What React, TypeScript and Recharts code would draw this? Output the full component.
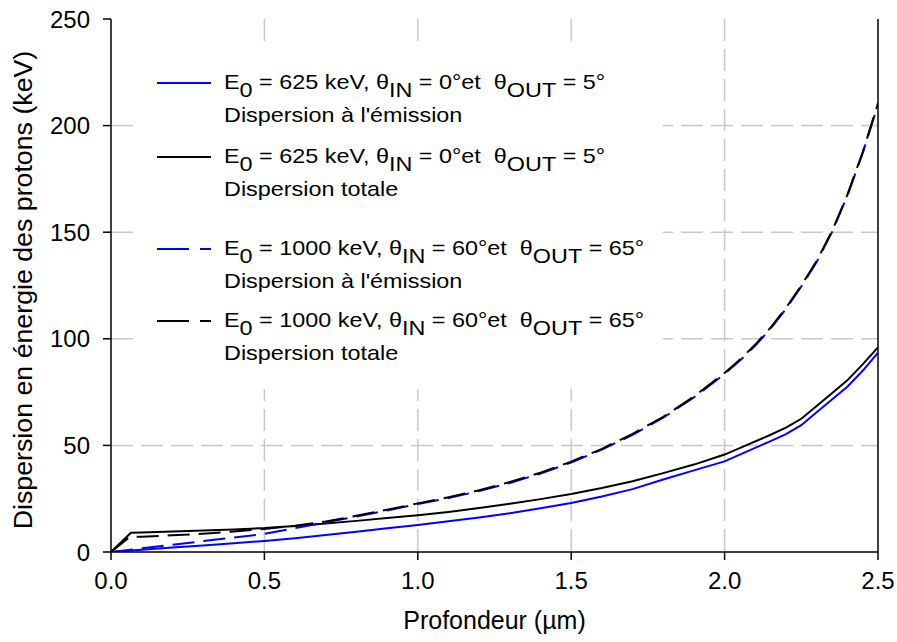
import React from 'react';
import { LineChart, Line, XAxis, YAxis, CartesianGrid, ReferenceLine } from 'recharts';

const FONT = '"Liberation Sans", Arial, Helvetica, sans-serif';

// 625 keV, θin=0°, θout=5° — dispersion à l'émission (blue solid)
const depthA = [0, 0.1, 0.2, 0.3, 0.4, 0.5, 0.6, 0.7, 0.8, 0.9, 1.0, 1.1, 1.2, 1.3, 1.4, 1.5, 1.6, 1.7, 1.8, 1.9, 2.0, 2.07, 2.15, 2.2, 2.25, 2.3, 2.35, 2.4, 2.45, 2.5];
const dispA = [0, 1.1, 2.1, 3.1, 4.1, 5.2, 6.5, 8.0, 9.5, 11.1, 12.7, 14.4, 16.2, 18.2, 20.5, 23.0, 26.0, 29.5, 34.0, 38.3, 42.5, 47.0, 52.0, 55.3, 59.5, 65.5, 71.5, 77.5, 85.0, 93.5];

// 625 keV — dispersion totale (black solid)
const depthB = [0, 0.065, 0.1, 0.2, 0.3, 0.4, 0.5, 0.6, 0.7, 0.8, 0.9, 1.0, 1.1, 1.2, 1.3, 1.4, 1.5, 1.6, 1.7, 1.8, 1.9, 2.0, 2.07, 2.15, 2.2, 2.25, 2.3, 2.35, 2.4, 2.45, 2.5];
const dispB = [0, 9.0, 9.2, 9.6, 10.1, 10.6, 11.2, 12.2, 13.4, 14.6, 15.9, 17.2, 18.8, 20.6, 22.6, 24.8, 27.2, 30.0, 33.2, 37.0, 41.0, 45.7, 50.0, 55.0, 58.3, 62.5, 68.5, 74.5, 80.5, 88.0, 96.0];

// 1000 keV, θin=60°, θout=65° — dispersion à l'émission (blue dashed)
const depthC = [0, 0.1, 0.2, 0.3, 0.4, 0.5, 0.6, 0.7, 0.8, 0.9, 1.0, 1.1, 1.2, 1.3, 1.4, 1.5, 1.6, 1.7, 1.8, 1.9, 2.0, 2.05, 2.1, 2.15, 2.2, 2.25, 2.3, 2.35, 2.4, 2.45, 2.5];
const dispC = [0, 1.7, 3.4, 5.1, 6.8, 8.5, 11.2, 13.9, 16.7, 19.5, 22.5, 25.3, 28.6, 32.4, 36.8, 42.0, 48.0, 55.0, 63.0, 72.5, 83.5, 89.8, 96.8, 104.8, 114.0, 124.5, 136.0, 150.0, 167.0, 187.0, 210.0];

// 1000 keV — dispersion totale (black dashed)
const depthD = [0, 0.06, 0.1, 0.2, 0.3, 0.4, 0.5, 0.6, 0.7, 0.8, 0.9, 1.0, 1.1, 1.2, 1.3, 1.4, 1.5, 1.6, 1.7, 1.8, 1.9, 2.0, 2.05, 2.1, 2.15, 2.2, 2.25, 2.3, 2.35, 2.4, 2.45, 2.5];
const dispD = [0, 7.0, 7.2, 7.8, 8.6, 9.6, 10.8, 12.3, 14.3, 17.0, 19.8, 22.8, 25.7, 29.0, 32.8, 37.2, 42.4, 48.4, 55.4, 63.4, 72.9, 84.0, 90.3, 97.3, 105.3, 114.5, 125.0, 136.5, 150.5, 167.5, 187.5, 210.5];

const xTicks = [0, 0.5, 1.0, 1.5, 2.0, 2.5];
const yTicks = [0, 50, 100, 150, 200, 250];
const gridX = [0.5, 1.0, 1.5, 2.0];
const gridY = [50, 100, 150, 200];

const xTitle = 'Profondeur (µm)';
const yTitle = 'Dispersion en énergie des protons (keV)';

const legendRows = [
  { color: '#0000ff', dashed: false, energy: '625', tin: '0', tout: '5', desc: "Dispersion à l'émission" },
  { color: '#000000', dashed: false, energy: '625', tin: '0', tout: '5', desc: 'Dispersion totale' },
  { color: '#0000ff', dashed: true, energy: '1000', tin: '60', tout: '65', desc: "Dispersion à l'émission" },
  { color: '#000000', dashed: true, energy: '1000', tin: '60', tout: '65', desc: 'Dispersion totale' },
];

const toData = (xs: number[], ys: number[]) => xs.map((x, i) => ({ x, y: ys[i] }));

const seriesA = toData(depthA, dispA);
const seriesB = toData(depthB, dispB);
const seriesC = toData(depthC, dispC);
const seriesD = toData(depthD, dispD);

const rowY = [83, 157, 249, 321];
const LEG_FS = 20;
const LEG_SX = 1.17;
const SUB_DY = 8.5;

function LegendRow({ row, y }: { row: typeof legendRows[number]; y: number }) {
  const base = y + 5.5;
  return (
    <g>
      <line
        x1={157}
        x2={211}
        y1={y}
        y2={y}
        stroke={row.color}
        strokeWidth={2}
        strokeDasharray={row.dashed ? '32 11 12 100' : undefined}
      />
      <g transform={`translate(224,${base}) scale(${LEG_SX},1)`}>
        <text x={0} y={0} fontSize={LEG_FS} fontFamily={FONT} fill="#000" style={{ whiteSpace: 'pre' }}>
          <tspan>E</tspan>
          <tspan dy={SUB_DY}>0</tspan>
          <tspan dy={-SUB_DY}>{` = ${row.energy} keV, θ`}</tspan>
          <tspan dy={SUB_DY}>IN</tspan>
          <tspan dy={-SUB_DY}>{` = ${row.tin}°et  θ`}</tspan>
          <tspan dy={SUB_DY}>OUT</tspan>
          <tspan dy={-SUB_DY}>{` = ${row.tout}°`}</tspan>
        </text>
        <text x={0} y={34} fontSize={LEG_FS} fontFamily={FONT} fill="#000">
          {row.desc}
        </text>
      </g>
    </g>
  );
}

export default function App() {
  const tickStyle = { fill: '#000', fontSize: 24, fontFamily: FONT };
  return (
    <div style={{ position: 'absolute', left: 0, top: 0, width: 897, height: 642, fontFamily: FONT, background: '#fff' }}>
      <LineChart width={897} height={642} margin={{ top: 19, right: 19, left: 0, bottom: 0 }}>
        <CartesianGrid
          stroke="#c8c8c8"
          strokeWidth={1.5}
          strokeDasharray="22 8"
          horizontalValues={gridY}
          verticalValues={gridX}
        />
        <XAxis
          type="number"
          dataKey="x"
          domain={[0, 2.5]}
          ticks={xTicks}
          interval={0}
          allowDataOverflow
          tickFormatter={(v: number) => v.toFixed(1)}
          height={90}
          tickSize={8}
          tickMargin={12}
          axisLine={{ stroke: '#000', strokeWidth: 1.5 }}
          tickLine={{ stroke: '#000', strokeWidth: 1.5 }}
          tick={tickStyle}
        />
        <YAxis
          type="number"
          domain={[0, 250]}
          ticks={yTicks}
          interval={0}
          allowDataOverflow
          width={111}
          tickSize={8}
          tickMargin={13}
          axisLine={{ stroke: '#000', strokeWidth: 1.5 }}
          tickLine={{ stroke: '#000', strokeWidth: 1.5 }}
          tick={tickStyle}
        />
        <ReferenceLine x={2.5} stroke="#000" strokeWidth={1.5} />
        <Line data={seriesA} dataKey="y" type="linear" stroke="#0000ff" strokeWidth={2} dot={false} isAnimationActive={false} />
        <Line data={seriesB} dataKey="y" type="linear" stroke="#000000" strokeWidth={2} dot={false} isAnimationActive={false} />
        <Line data={seriesC} dataKey="y" type="linear" stroke="#0000ff" strokeWidth={2} strokeDasharray="22 9" dot={false} isAnimationActive={false} />
        <Line data={seriesD} dataKey="y" type="linear" stroke="#000000" strokeWidth={2} strokeDasharray="22 9" dot={false} isAnimationActive={false} />
      </LineChart>
      <svg width={897} height={642} style={{ position: 'absolute', left: 0, top: 0, pointerEvents: 'none' }}>
        <rect x={135} y={48} width={528} height={341} fill="#fff" />
        {legendRows.map((row, i) => (
          <LegendRow key={i} row={row} y={rowY[i]} />
        ))}
        <text x={494.5} y={629} textAnchor="middle" fontSize={25} fontFamily={FONT} fill="#000">
          {xTitle}
        </text>
        <g transform="translate(32,290) rotate(-90)">
          <text x={0} y={0} textAnchor="middle" fontSize={25} fontFamily={FONT} fill="#000" transform="scale(1.07,1)">
            {yTitle}
          </text>
        </g>
      </svg>
    </div>
  );
}
